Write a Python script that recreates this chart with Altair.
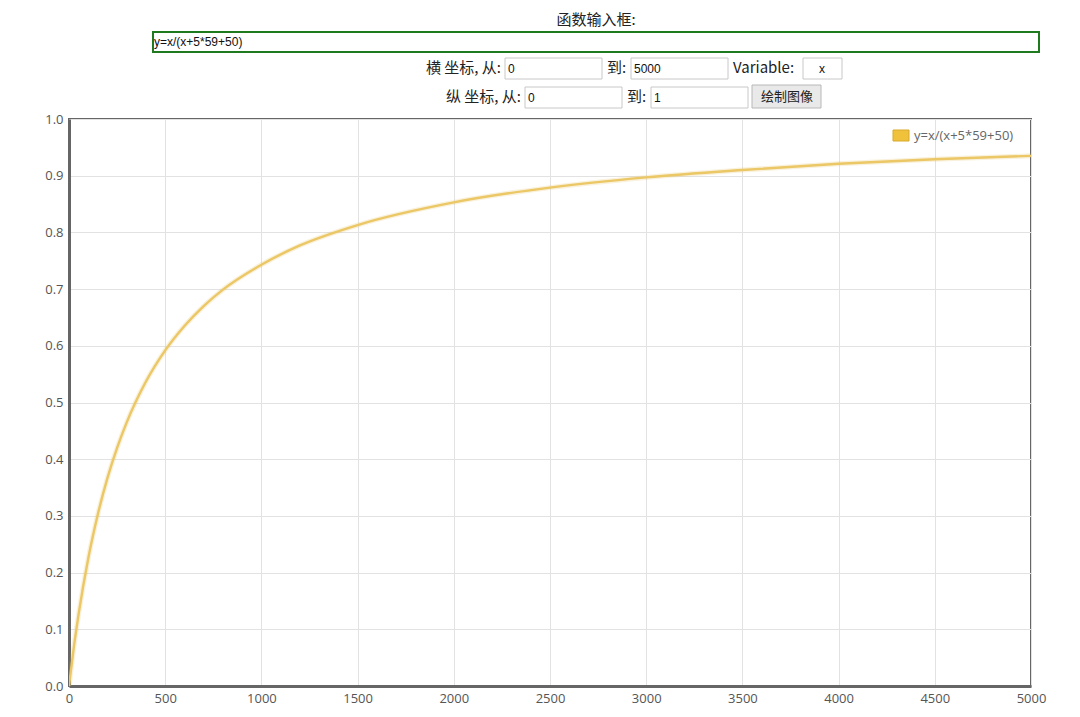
import altair as alt
import pandas as pd

# Curve values
xs = [0, 25, 50, 100, 150, 200, 250, 300, 400, 500, 600, 700, 800, 1000,
      1200, 1500, 2000, 2500, 3000, 3500, 4000, 4500, 5000]
ys = [0.0, 0.068, 0.127, 0.225, 0.303, 0.367, 0.420, 0.465, 0.537, 0.592,
      0.635, 0.670, 0.699, 0.743, 0.777, 0.813, 0.853, 0.879, 0.897, 0.910,
      0.921, 0.929, 0.935]
series_name = "y=x/(x+5*59+50)"
x_ticks = [0, 500, 1000, 1500, 2000, 2500, 3000, 3500, 4000, 4500, 5000]
y_ticks = [0.0, 0.1, 0.2, 0.3, 0.4, 0.5, 0.6, 0.7, 0.8, 0.9, 1.0]

df = pd.DataFrame({"x": xs, "y": ys, "s": [series_name] * len(xs)})

OX, OY = 69, 119  # plot origin on the page
one = alt.Data(values=[{}])
CJK = "Noto Sans CJK SC"


def box(x0, y0, x1, y1, fill="white", stroke="#c8c8c8", sw=1):
    return alt.Chart(one).mark_rect(fill=fill, stroke=stroke, strokeWidth=sw).encode(
        x=alt.value(x0 - OX), x2=alt.value(x1 - OX),
        y=alt.value(y0 - OY), y2=alt.value(y1 - OY))


def label(txt, x, y, size=15, align="left", font=CJK, color="#222"):
    return alt.Chart(one).mark_text(text=txt, fontSize=size, align=align,
                                    baseline="middle", font=font, color=color).encode(
        x=alt.value(x - OX), y=alt.value(y - OY))


xenc = alt.X("x:Q", scale=alt.Scale(domain=[0, 5000], nice=False),
             axis=alt.Axis(values=x_ticks, format="d", title=None,
                           labelFlush=False, labelOverlap=False))
yenc = alt.Y("y:Q", scale=alt.Scale(domain=[0, 1], nice=False),
             axis=alt.Axis(values=y_ticks, format=".1f", title=None,
                           labelFlush=False, labelOverlap=False))

glow = alt.Chart(df).mark_line(color="#e2b84a", strokeWidth=5, opacity=0.2,
                               interpolate="monotone", clip=True).encode(x=xenc, y=yenc)
line = alt.Chart(df).mark_line(color="#ebc765", strokeWidth=2.4,
                               interpolate="monotone", clip=True).encode(x=xenc, y=yenc)

ui = [
    label("函数输入框:", 596, 20, size=15, align="center"),
    box(153, 32, 1039, 52, stroke="#1f7a1f", sw=2),
    label(series_name, 154, 42, size=12, font="Liberation Sans", color="#111"),
    label("横 坐标, 从:", 501, 68, align="right"),
    box(505, 58, 602, 79),
    label("0", 508, 69, size=12, font="Liberation Sans", color="#111"),
    label("到:", 607, 68),
    box(631, 58, 728, 79),
    label("5000", 634, 69, size=12, font="Liberation Sans", color="#111"),
    label("Variable:", 733, 68),
    box(803, 58, 842, 79),
    label("x", 822, 69, size=12, align="center", font="Liberation Sans", color="#111"),
    label("纵 坐标, 从:", 521, 97, align="right"),
    box(525, 87, 622, 108),
    label("0", 528, 98, size=12, font="Liberation Sans", color="#111"),
    label("到:", 627, 97),
    box(651, 87, 748, 108),
    label("1", 654, 98, size=12, font="Liberation Sans", color="#111"),
    box(752, 85, 821, 108, fill="#e9e9e9", stroke="#b8b8b8"),
    label("绘制图像", 787, 97, size=13, align="center"),
    # legend
    box(893, 130, 909, 141, fill="#f0c23c", stroke="#d9a92a"),
    label(series_name, 914, 136, size=13, font="Open Sans", color="#666"),
]

chart = alt.layer(glow, line, *ui).properties(
    width=962, height=567,
    autosize=alt.AutoSizeParams(type="none"),
    padding={"left": 61, "top": 111, "right": 41, "bottom": 23},
).configure_view(stroke="#666", strokeWidth=2).configure_axis(
    domainColor="#666", domainWidth=3, ticks=False, gridColor="#e2e2e2",
    gridWidth=1, labelColor="#555", labelFontSize=13, labelFont="Open Sans",
).configure_axisX(labelPadding=6).configure_axisY(labelPadding=6)

chart.save("out.html", embed_options={"renderer": "svg", "actions": False})
